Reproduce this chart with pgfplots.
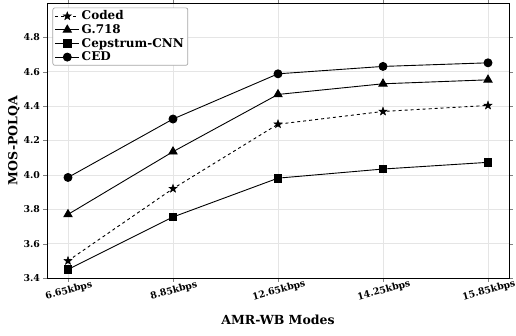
\documentclass[border=0pt]{standalone}
\usepackage{pgfplots}
\pgfplotsset{compat=1.18}
\usepackage{fontspec}
\setmainfont{DejaVu Serif}
\pgfdeclareplotmark{fstar}{%
  \pgfpathmoveto{\pgfqpointpolar{90}{1.15\pgfplotmarksize}}%
  \pgfpathlineto{\pgfqpointpolar{126}{0.47\pgfplotmarksize}}%
  \pgfpathlineto{\pgfqpointpolar{162}{1.15\pgfplotmarksize}}%
  \pgfpathlineto{\pgfqpointpolar{198}{0.47\pgfplotmarksize}}%
  \pgfpathlineto{\pgfqpointpolar{234}{1.15\pgfplotmarksize}}%
  \pgfpathlineto{\pgfqpointpolar{270}{0.47\pgfplotmarksize}}%
  \pgfpathlineto{\pgfqpointpolar{306}{1.15\pgfplotmarksize}}%
  \pgfpathlineto{\pgfqpointpolar{342}{0.47\pgfplotmarksize}}%
  \pgfpathlineto{\pgfqpointpolar{18}{1.15\pgfplotmarksize}}%
  \pgfpathlineto{\pgfqpointpolar{54}{0.47\pgfplotmarksize}}%
  \pgfpathclose
  \pgfusepathqfillstroke}
\begin{document}
\begin{tikzpicture}
\begin{axis}[
  scale only axis,
  width=462pt, height=275pt,
  xmin=-0.2, xmax=4.2,
  ymin=3.4, ymax=5.0,
  xtick={0,1,2,3,4},
  xticklabels={6.65kbps,8.85kbps,12.65kbps,14.25kbps,15.85kbps},
  ytick={3.4,3.6,3.8,4.0,4.2,4.4,4.6,4.8},
  yticklabel style={/pgf/number format/fixed,/pgf/number format/fixed zerofill,/pgf/number format/precision=1},
  /pgf/number format/assume math mode=true,
  tick label style={font=\bfseries\fontsize{9.4}{11}\selectfont},
  xticklabel style={rotate=15, anchor=north, yshift=-1pt, xshift=-1.5pt},
  grid=major,
  major grid style={gray!20, line width=0.6pt},
  tick align=outside,
  major tick length=3.5pt,
  axis line style={line width=0.8pt},
  xlabel={\bfseries AMR-WB Modes},
  ylabel={\bfseries MOS-POLQA},
  label style={font=\bfseries\fontsize{12.5}{13}\selectfont},
  xlabel style={yshift=-5pt},
  ylabel style={yshift=-3pt},
  legend cell align=left,
  legend style={font=\bfseries\fontsize{12}{14}\selectfont, draw=gray!70, line width=0.7pt, rounded corners=2pt,
    at={(0.0119,0.9836)}, anchor=north west, inner xsep=2pt, inner ysep=1pt, row sep=-0.8pt},
  legend image code/.code={\draw[mark repeat=2,mark phase=2,#1] plot coordinates {(0pt,0pt) (12pt,0pt) (24pt,0pt)};},
  every axis plot/.append style={line width=0.9pt, black},
]
\addplot[dashed, mark=fstar, mark size=3.8pt, mark options={solid, fill=black, line width=0.4pt}] coordinates {(0,3.50) (1,3.92) (2,4.295) (3,4.369) (4,4.404)};
\addlegendentry{Coded}
\addplot[mark=triangle*, mark size=4.7pt, mark options={solid}] coordinates {(0,3.77) (1,4.135) (2,4.468) (3,4.530) (4,4.553)};
\addlegendentry{G.718}
\addplot[mark=square*, mark size=3.9pt] coordinates {(0,3.45) (1,3.755) (2,3.981) (3,4.034) (4,4.073)};
\addlegendentry{Cepstrum-CNN}
\addplot[mark=*, mark size=4pt] coordinates {(0,3.985) (1,4.325) (2,4.588) (3,4.631) (4,4.652)};
\addlegendentry{CED}
\end{axis}
\pgfresetboundingbox
\path ([shift={(-47pt,-57.3pt)}]current axis.south west) rectangle ([shift={(7pt,3pt)}]current axis.north east);
\end{tikzpicture}
\end{document}
